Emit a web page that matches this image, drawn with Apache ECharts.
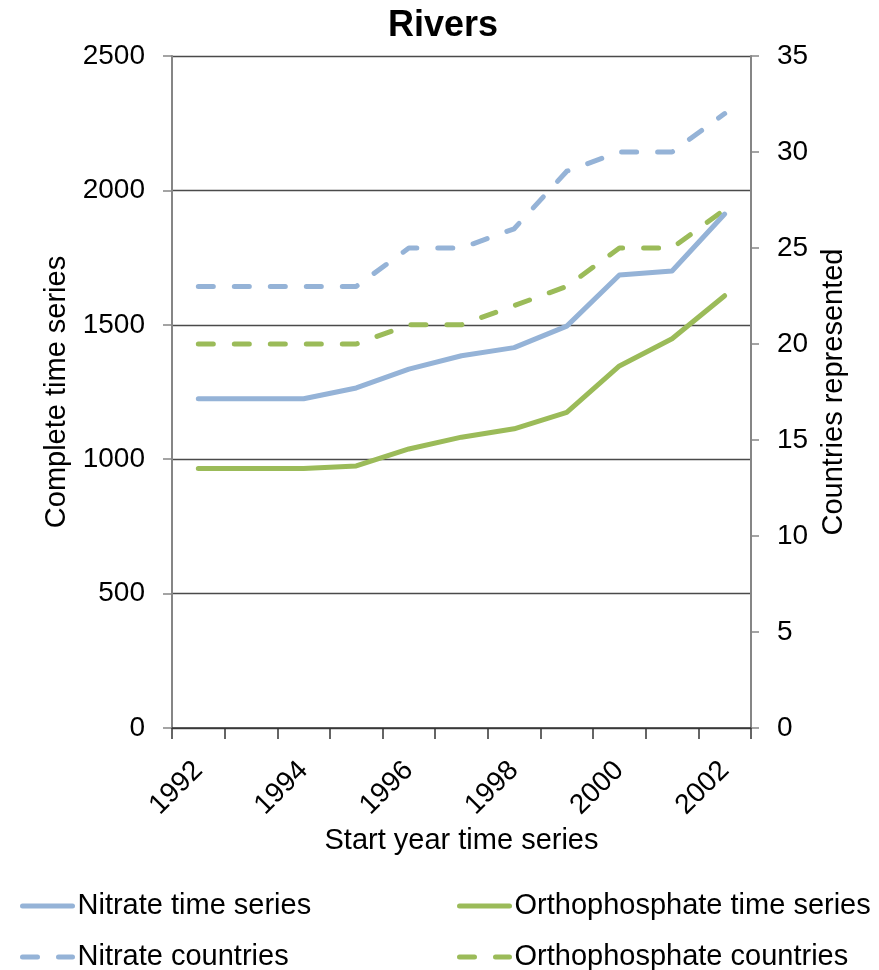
<!DOCTYPE html>
<html>
<head>
<meta charset="utf-8">
<script src="https://cdn.jsdelivr.net/npm/echarts@6/dist/echarts.min.js"></script>
<style>
  html, body { margin: 0; padding: 0; background: #fff; }
  #chart { width: 879px; height: 970px; }
</style>
</head>
<body>
<div id="chart"></div>
<script>
// Start year of the monitoring series
const years = ['1992', '1993', '1994', '1995', '1996', '1997', '1998', '1999', '2000', '2001', '2002'];

// Number of complete time series (left axis)
const nitrateSeries = [1225, 1225, 1225, 1265, 1335, 1385, 1415, 1495, 1685, 1700, 1912];
const orthoSeries = [965, 965, 965, 975, 1038, 1082, 1113, 1174, 1347, 1448, 1608];

// Number of countries represented (right axis)
const nitrateCountries = [23, 23, 23, 23, 25, 25, 26, 29, 30, 30, 32];
const orthoCountries = [20, 20, 20, 20, 21, 21, 22, 23, 25, 25, 27];

const BLUE = '#95B3D7';
const GREEN = '#9BBB59';
const FONT = 'Liberation Sans, Arial, sans-serif';
const LINE_W = 5;

const chart = echarts.init(document.getElementById('chart'));

function lineSeries(name, data, color, dashed, yIndex) {
  return {
    name: name,
    type: 'line',
    data: data,
    yAxisIndex: yIndex,
    symbol: 'none',
    smooth: false,
    lineStyle: {
      color: color,
      width: LINE_W,
      type: dashed ? [15, 21] : 'solid',
      cap: 'round',
      join: 'round'
    },
    itemStyle: { color: color },
    z: dashed ? 3 : 4
  };
}

// one legend entry per component so each can sit at its own spot in the 2x2 key
function legendItem(left, top, name) {
  return {
    orient: 'horizontal',
    left: left,
    top: top,
    padding: 0,
    itemWidth: 50,
    itemHeight: 14,
    itemStyle: { opacity: 0 },
    lineStyle: { width: LINE_W, cap: 'round' },
    textStyle: { fontFamily: FONT, fontSize: 29, color: '#000', lineHeight: 30 },
    data: [name]
  };
}

chart.setOption({
  animation: false,
  backgroundColor: '#ffffff',
  title: {
    text: 'Rivers',
    left: 383,
    top: 3,
    textStyle: { fontFamily: FONT, fontSize: 36, fontWeight: 'bold', color: '#000' }
  },
  grid: { left: 172, right: 128, top: 56, bottom: 242 },
  legend: [
    legendItem(20, 891, 'Nitrate time series'),
    legendItem(20, 942, 'Nitrate countries'),
    legendItem(457, 891, 'Orthophosphate time series'),
    legendItem(457, 942, 'Orthophosphate countries')
  ],
  xAxis: {
    type: 'category',
    data: years,
    boundaryGap: true,
    name: 'Start year time series',
    nameLocation: 'middle',
    nameGap: 92,
    nameTextStyle: { fontFamily: FONT, fontSize: 29, color: '#000' },
    axisLine: { lineStyle: { color: '#333', width: 1.5 } },
    axisTick: { show: true, length: 11, interval: 0, lineStyle: { color: '#333', width: 1.5 } },
    axisLabel: {
      interval: 1,
      rotate: 45,
      margin: 38,
      fontFamily: FONT,
      fontSize: 28,
      color: '#000'
    },
    splitLine: { show: false }
  },
  yAxis: [
    {
      type: 'value',
      min: 0,
      max: 2500,
      interval: 500,
      position: 'left',
      name: 'Complete time series',
      nameLocation: 'middle',
      nameRotate: 90,
      nameGap: 95,
      nameTextStyle: { fontFamily: FONT, fontSize: 29, color: '#000' },
      axisLine: { show: true, lineStyle: { color: '#868686', width: 2 } },
      axisTick: { show: true, inside: false, length: 9, lineStyle: { color: '#868686', width: 1.5 } },
      axisLabel: {
        margin: 27,
        fontFamily: FONT,
        fontSize: 28,
        color: '#000',
        formatter: function (v) { return String(v); }
      },
      splitLine: { show: true, lineStyle: { color: '#4a4a4a', width: 1.3 } }
    },
    {
      type: 'value',
      min: 0,
      max: 35,
      interval: 5,
      position: 'right',
      name: 'Countries represented',
      nameLocation: 'middle',
      nameRotate: 90,
      nameGap: 67,
      nameTextStyle: { fontFamily: FONT, fontSize: 29, color: '#000' },
      axisLine: { show: true, lineStyle: { color: '#868686', width: 2 } },
      axisTick: { show: true, inside: false, length: 8, lineStyle: { color: '#868686', width: 1.5 } },
      axisLabel: { margin: 26, fontFamily: FONT, fontSize: 28, color: '#000' },
      splitLine: { show: false }
    }
  ],
  series: [
    lineSeries('Nitrate time series', nitrateSeries, BLUE, false, 0),
    lineSeries('Orthophosphate time series', orthoSeries, GREEN, false, 0),
    lineSeries('Nitrate countries', nitrateCountries, BLUE, true, 1),
    lineSeries('Orthophosphate countries', orthoCountries, GREEN, true, 1)
  ]
});
</script>
</body>
</html>
